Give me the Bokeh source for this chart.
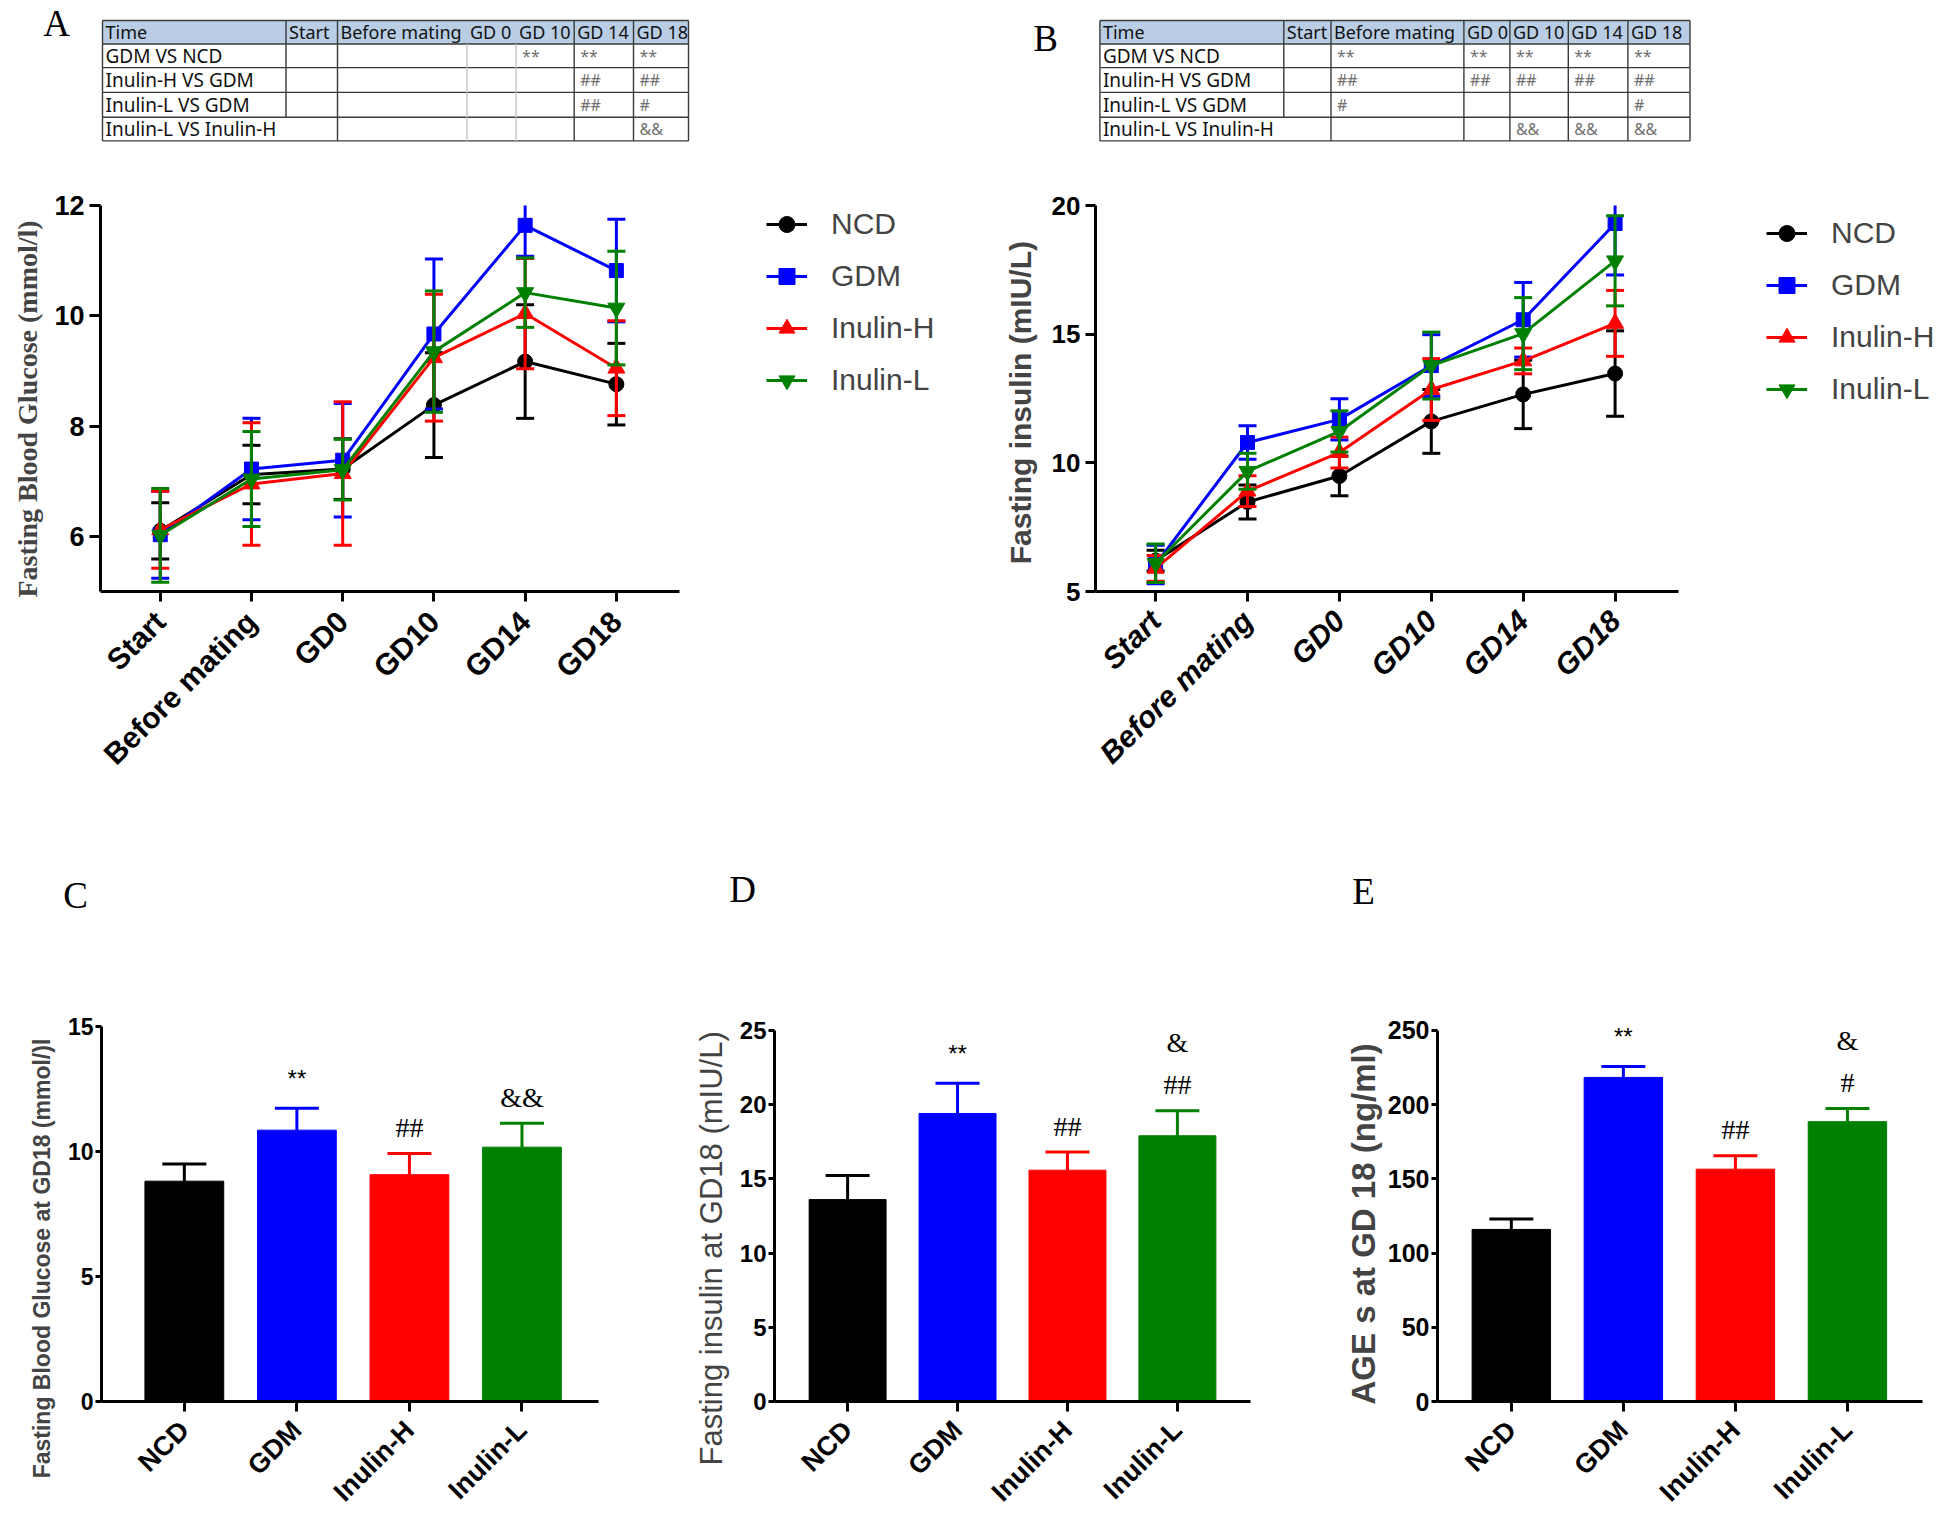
import math
from bokeh.plotting import figure
from bokeh.models import Range1d, FixedTicker, Legend, LegendItem
from bokeh.layouts import column, row
from bokeh.embed import file_html
from bokeh.resources import INLINE
from bokeh.core.properties import value

# ---------------- data ----------------
groups = ["NCD", "GDM", "Inulin-H", "Inulin-L"]
timepoints = ["Start", "Before mating", "GD0", "GD10", "GD14", "GD18"]

glucose_ncd = [6.10, 7.12, 7.22, 8.38, 9.17, 8.76]
glucose_gdm = [6.03, 7.22, 7.38, 9.67, 11.64, 10.82]
glucose_inh = [6.12, 6.95, 7.14, 9.24, 10.04, 9.05]
glucose_inl = [6.02, 7.04, 7.21, 9.35, 10.42, 10.14]
glucose_ncd_err = [0.51, 0.53, 0.55, 0.95, 1.03, 0.74]
glucose_gdm_err = [0.79, 0.92, 1.03, 1.36, 0.56, 0.93]
glucose_inh_err = [0.70, 1.11, 1.30, 1.15, 1.00, 0.86]
glucose_inl_err = [0.85, 0.86, 0.55, 1.10, 0.63, 1.03]

insulin_ncd = [6.20, 8.48, 9.49, 11.61, 12.66, 13.47]
insulin_gdm = [6.05, 10.79, 11.69, 13.78, 15.56, 19.30]
insulin_inh = [5.90, 8.90, 10.40, 12.85, 13.96, 15.42]
insulin_inl = [6.10, 9.67, 11.22, 13.78, 15.02, 17.85]
insulin_ncd_err = [0.40, 0.66, 0.77, 1.24, 1.33, 1.66]
insulin_gdm_err = [0.75, 0.65, 0.80, 1.20, 1.45, 2.00]
insulin_inh_err = [0.50, 0.60, 0.60, 1.20, 0.50, 1.28]
insulin_inl_err = [0.75, 0.70, 0.80, 1.30, 1.40, 1.75]

fbg_gd18 = [8.81, 10.85, 9.07, 10.17]
fbg_gd18_err = [0.69, 0.88, 0.85, 0.96]
fins_gd18 = [13.60, 19.40, 15.58, 17.90]
fins_gd18_err = [1.63, 2.03, 1.22, 1.68]
ages_gd18 = [115.9, 218.3, 156.5, 188.5]
ages_gd18_err = [7.1, 7.4, 9.1, 8.8]

c_vs_ncd = ["", "**", "", ""]
c_vs_gdm = ["", "", "##", ""]
c_vs_inh = ["", "", "", "&&"]
d_vs_ncd = ["", "**", "", ""]
d_vs_gdm = ["", "", "##", "##"]
d_vs_inh = ["", "", "", "&"]
e_vs_ncd = ["", "**", "", ""]
e_vs_gdm = ["", "", "##", "#"]
e_vs_inh = ["", "", "", "&"]

glucose_ticks = [6, 8, 10, 12]
insulin_ticks = [5, 10, 15, 20]
fbg_ticks = [0, 5, 10, 15]
fins_ticks = [0, 5, 10, 15, 20, 25]
ages_ticks = [0, 50, 100, 150, 200, 250]

label_a = "Fasting Blood Glucose (mmol/l)"
label_b = "Fasting insulin  (mIU/L)"
label_c = "Fasting Blood Glucose at GD18 (mmol/)l"
label_d = "Fasting insulin at GD18  (mIU/L)"
label_e = "AGE s at GD 18 (ng/ml)"

table_header = ["Time", "Start", "Before mating", "GD 0", "GD 10", "GD 14", "GD 18"]
table_rows = ["GDM VS NCD", "Inulin-H VS GDM", "Inulin-L VS GDM", "Inulin-L VS Inulin-H"]
table_a_marks = [["", "", "", "**", "**", "**"],
                 ["", "", "", "", "##", "##"],
                 ["", "", "", "", "##", "#"],
                 ["", "", "", "", "", "&&"]]
table_b_marks = [["", "**", "**", "**", "**", "**"],
                 ["", "##", "##", "##", "##", "##"],
                 ["", "#", "", "", "", "#"],
                 ["", "", "", "&&", "&&", "&&"]]

# ---------------- styles ----------------
colors = ["#000000", "#0000ff", "#ff0000", "#008000"]
markers = ["circle", "square", "triangle", "inverted_triangle"]
marker_sizes = [15, 14, 17, 17]
SANS = "Liberation Sans"
SERIF = "Liberation Serif"
NBSP = "\u00a0"


def shifted(label, n_pad):
    # trailing no-break spaces move the centred (rotated) axis title downwards
    return label + NBSP * n_pad


def base_fig(width, height, xr, yr, left, right, top, bottom):
    p = figure(width=width, height=height, x_range=xr, y_range=yr,
               output_backend="svg", toolbar_location=None, title=None,
               min_border_left=left, min_border_right=right,
               min_border_top=top, min_border_bottom=bottom)
    p.outline_line_color = None
    p.xgrid.visible = False
    p.ygrid.visible = False
    p.background_fill_color = "white"
    p.border_fill_color = "white"
    for ax in (p.xaxis[0], p.yaxis[0]):
        ax.axis_line_width = 3
        ax.axis_line_color = "black"
        ax.major_tick_line_width = 3
        ax.major_tick_line_color = "black"
        ax.major_tick_in = 0
        ax.minor_tick_line_color = None
        ax.major_label_text_font = SANS
        ax.major_label_text_font_style = "bold"
        ax.major_label_text_color = "black"
    return p


def strip_fig(width, height, y0, y1):
    p = figure(width=width, height=height, x_range=Range1d(0, width),
               y_range=Range1d(y1, y0), output_backend="svg", toolbar_location=None,
               title=None, x_axis_location=None, y_axis_location=None,
               min_border_left=0, min_border_right=0, min_border_top=0, min_border_bottom=0)
    p.outline_line_color = None
    p.grid.visible = False
    return p


def line_panel(width, height, borders, data_px, pads, yr, ticks, series, errs, ylabel,
               ylab_font, ylab_size, ylab_standoff, ytick_size, ytick_out,
               xlab_style, xlab_size, xlab_standoff, legend_loc):
    n = len(timepoints)
    left, right, top, bottom = borders
    px_per_unit = data_px / (n - 1 + pads[0] + pads[1])
    x_end = -pads[0] + (width - left - right) / px_per_unit
    p = base_fig(width, height, Range1d(-pads[0], x_end), Range1d(*yr), *borders)
    xs = list(range(n))
    items = []
    for g, c, m, ms, mean, err in zip(groups, colors, markers, marker_sizes, series, errs):
        lo = [a - b for a, b in zip(mean, err)]
        hi = [a + b for a, b in zip(mean, err)]
        p.segment(x0=xs, y0=lo, x1=xs, y1=hi, line_color=c, line_width=3)
        p.scatter(x=xs + xs, y=lo + hi, marker="dash", size=18, line_color=c, line_width=3)
        ln = p.line(xs, mean, line_color=c, line_width=3)
        sc = p.scatter(xs, mean, marker=m, size=ms, fill_color=c, line_color=c)
        items.append(LegendItem(label=g, renderers=[ln, sc]))
    xa, ya = p.xaxis[0], p.yaxis[0]
    xa.bounds = (-pads[0], n - 1 + pads[1])
    xa.ticker = FixedTicker(ticks=xs)
    xa.major_label_overrides = {i: t for i, t in enumerate(timepoints)}
    xa.major_label_orientation = math.pi / 4
    xa.major_label_text_font_size = xlab_size
    xa.major_label_text_font_style = xlab_style
    xa.major_tick_out = 10
    xa.major_label_standoff = xlab_standoff
    ya.ticker = FixedTicker(ticks=ticks)
    ya.major_label_text_font_size = ytick_size
    ya.major_tick_out = ytick_out
    ya.major_label_standoff = 5
    ya.axis_label = ylabel
    ya.axis_label_text_font = ylab_font
    ya.axis_label_text_font_style = "bold"
    ya.axis_label_text_font_size = ylab_size
    ya.axis_label_standoff = ylab_standoff
    leg = Legend(items=items, location=legend_loc, glyph_width=41, glyph_height=40,
                 label_height=40, spacing=12, padding=0, margin=0, label_standoff=24,
                 border_line_color=None, background_fill_alpha=0,
                 label_text_font=SANS, label_text_font_size="30px")
    p.add_layout(leg)
    return p


# row 3 geometry (page pixels): shared frame top / zero line
ROW3_TOP = 919
FRAME3_TOP = 1000
ZERO3 = 1403
PAGE_BOTTOM = 1520


def bar_panel(width, left, right, xr, top_tick, top_tick_px, ticks, means, errs,
              ylabel, ylab_style, ylab_size, ylab_standoff, ytick_size, vs_ncd, vs_gdm, vs_inh):
    height = PAGE_BOTTOM - ROW3_TOP
    y_end = top_tick * (ZERO3 - FRAME3_TOP) / (ZERO3 - top_tick_px)
    p = base_fig(width, height, Range1d(*xr), Range1d(0, y_end), left, right,
                 FRAME3_TOP - ROW3_TOP, PAGE_BOTTOM - ZERO3)
    xs = list(range(len(groups)))
    tops = [a + b for a, b in zip(means, errs)]
    p.vbar(x=xs, top=means, width=0.7, fill_color=colors, line_color=colors)
    p.segment(x0=xs, y0=means, x1=xs, y1=tops, line_color=colors, line_width=3)
    p.scatter(x=xs, y=tops, marker="dash", size=44, line_color=colors, line_width=3)
    p.text(x=xs, y=tops, text=vs_ncd, y_offset=-30, text_align="center",
           text_baseline="middle", text_font=value(SANS), text_font_size=value("24px"))
    p.text(x=xs, y=tops, text=vs_gdm, y_offset=-26, text_align="center",
           text_baseline="middle", text_font=value(SERIF), text_font_size=value("28px"))
    amp_off = [-68 if h else -26 for h in vs_gdm]
    p.text(x=xs, y=tops, text=vs_inh, y_offset=amp_off, text_align="center",
           text_baseline="middle", text_font=value(SERIF), text_font_size=value("28px"))
    xa, ya = p.xaxis[0], p.yaxis[0]
    xa.ticker = FixedTicker(ticks=xs)
    xa.major_label_overrides = {i: g for i, g in enumerate(groups)}
    xa.major_label_orientation = math.pi / 4
    xa.major_label_text_font_size = "27px"
    xa.major_tick_out = 10
    xa.major_label_standoff = 14
    ya.ticker = FixedTicker(ticks=ticks)
    ya.bounds = (0, top_tick)
    ya.major_label_text_font_size = ytick_size
    ya.major_tick_out = 6
    ya.major_label_standoff = 2
    ya.axis_label = ylabel
    ya.axis_label_text_font = SANS
    ya.axis_label_text_font_style = ylab_style
    ya.axis_label_text_font_size = ylab_size
    ya.axis_label_standoff = ylab_standoff
    return p


def draw_table(p, xe, ye, marks, light_edges):
    dark = "#3a3a3a"
    p.quad(left=[xe[0]], right=[xe[-1]], top=[ye[0]], bottom=[ye[1]],
           fill_color="#b9cde5", line_color=None)
    p.segment(x0=[xe[0]] * len(ye), y0=ye, x1=[xe[-1]] * len(ye), y1=ye,
              line_color=dark, line_width=1.4)
    x0s, y0s, y1s, cols = [], [], [], []
    nrows = len(ye) - 1
    for j, x in enumerate(xe):
        for r in range(nrows):
            if j == 1 and r == nrows - 1:
                continue
            if j in light_edges:
                if r == 0:
                    continue
                c = "#c4c4c4"
            else:
                c = dark
            x0s.append(x); y0s.append(ye[r]); y1s.append(ye[r + 1]); cols.append(c)
    p.segment(x0=x0s, y0=y0s, x1=x0s, y1=y1s, line_color=cols, line_width=1.4)
    hy = (ye[0] + ye[1]) / 2
    p.text(x=[xe[j] + 3 for j in range(len(table_header))], y=[hy] * len(table_header),
           text=table_header, text_font=value("Noto Sans"), text_font_size=value("18px"),
           text_baseline="middle", text_align="left", text_color="#111111")
    p.text(x=[xe[0] + 3] * len(table_rows),
           y=[(ye[r + 1] + ye[r + 2]) / 2 for r in range(len(table_rows))],
           text=table_rows, text_font=value("Noto Sans"), text_font_size=value("19px"),
           text_baseline="middle", text_align="left", text_color="#111111")
    mx, my, mt = [], [], []
    for r, rm in enumerate(marks):
        for c, m in enumerate(rm):
            if m:
                mx.append(xe[c + 1] + 6)
                my.append((ye[r + 1] + ye[r + 2]) / 2)
                mt.append(m)
    p.text(x=mx, y=my, text=mt, text_font=value("Noto Sans"), text_font_size=value("16px"),
           text_baseline="middle", text_align="left", text_color="#707070")


# ---------------- top strip: tables (page coords) ----------------
strip1 = strip_fig(1940, 160, 0, 160)
rows_y = [20, 43.5, 67.1, 91.9, 116.8, 140.4]
draw_table(strip1, [102, 285.5, 337, 466.5, 515.6, 573.7, 633, 688], rows_y, table_a_marks, [3, 4])
draw_table(strip1, [1099.4, 1283.3, 1330.5, 1463.4, 1509.4, 1567.8, 1627.4, 1689.5], rows_y,
           table_b_marks, [])
strip1.text(x=[56, 1045], y=[23, 38], text=["A", "B"], text_font=value(SERIF),
            text_font_size=value("37px"), text_align="center", text_baseline="middle")

# ---------------- row 2: line charts (page y 160..800, frames 205..591) ----------------
pA = line_panel(995, 640, (100, 6, 45, 209), 579, (0.655, 0.692), (5, 12), glucose_ticks,
                [glucose_ncd, glucose_gdm, glucose_inh, glucose_inl],
                [glucose_ncd_err, glucose_gdm_err, glucose_inh_err, glucose_inl_err],
                shifted(label_a, 3), SERIF, "28px", 8, "27px", 11,
                "bold", "30px", 15, (666, 191))
pB = line_panel(945, 640, (100, 6, 45, 209), 583, (0.654, 0.69), (5, 20), insulin_ticks,
                [insulin_ncd, insulin_gdm, insulin_inh, insulin_inl],
                [insulin_ncd_err, insulin_gdm_err, insulin_inh_err, insulin_inl_err],
                label_b, SANS, "30px", 12, "26px", 10,
                "bold italic", "30px", 14, (671, 182))

# ---------------- strip 2: panel letters (page y 800..ROW3_TOP) ----------------
strip2 = strip_fig(1940, ROW3_TOP - 800, 800, ROW3_TOP)
strip2.text(x=[75, 742, 1363], y=[895, 889, 891], text=["C", "D", "E"], text_font=value(SERIF),
            text_font_size=value("37px"), text_align="center", text_baseline="middle")

# ---------------- row 3: bar charts (page y ROW3_TOP..1520) ----------------
pC = bar_panel(645, 101, 47, (-0.736, 3.68), 15, 1026, fbg_ticks,
               fbg_gd18, fbg_gd18_err, shifted(label_c, 18), "bold", "23px", 10,
               "23px", c_vs_ncd, c_vs_gdm, c_vs_inh)
pD = bar_panel(647, 129, 42, (-0.665, 3.665), 25, 1030, fins_ticks,
               fins_gd18, fins_gd18_err, shifted(label_d, 10), "normal", "31px", 8,
               "24px", d_vs_ncd, d_vs_gdm, d_vs_inh)
pE = bar_panel(648, 145, 18, (-0.659, 3.67), 250, 1030, ages_ticks,
               ages_gd18, ages_gd18_err, shifted(label_e, 5), "bold", "33px", 3,
               "25px", e_vs_ncd, e_vs_gdm, e_vs_inh)

layout = column(strip1, row(pA, pB), strip2, row(pC, pD, pE))
open("out.html", "w").write(file_html(layout, INLINE))
